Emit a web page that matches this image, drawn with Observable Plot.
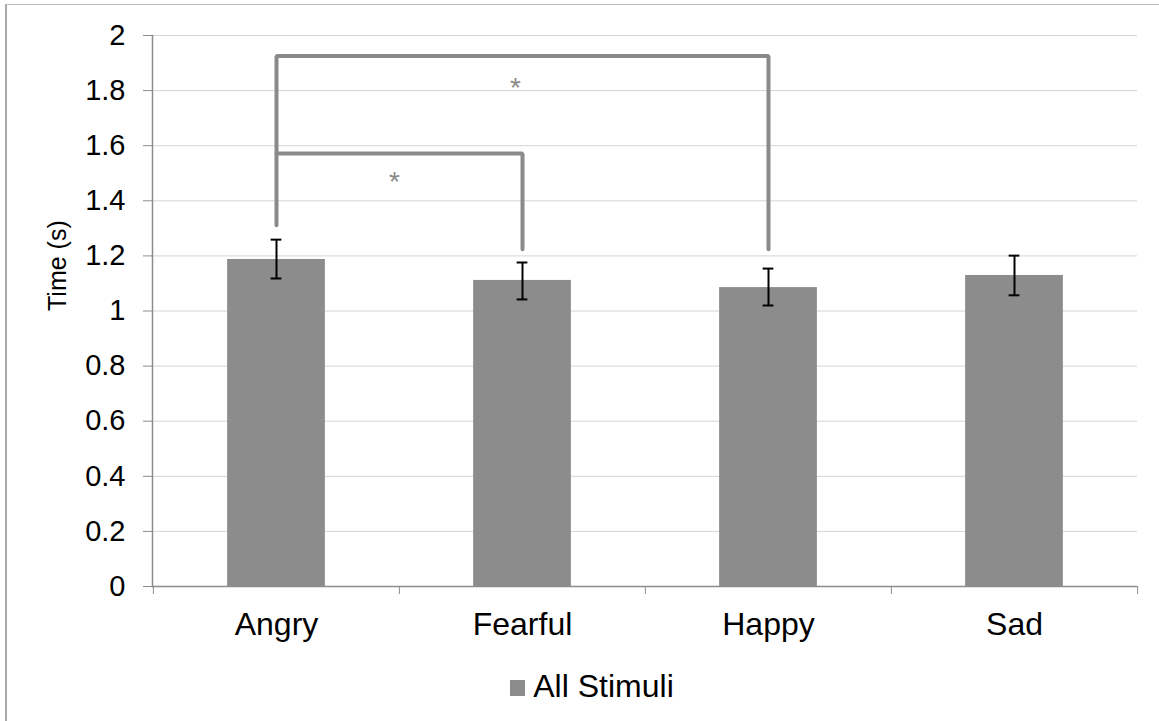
<!DOCTYPE html>
<html><head><meta charset="utf-8">
<script src="https://cdn.jsdelivr.net/npm/d3@7"></script>
<script src="https://cdn.jsdelivr.net/npm/@observablehq/plot@0.6"></script>
<style>
html,body{margin:0;padding:0;background:#fff;overflow:hidden;width:1159px;height:721px;}
#border{position:absolute;left:5px;top:4px;width:1180px;height:740px;border-left:2px solid #a8a8a8;border-top:1px solid #bdbdbd;box-sizing:border-box;pointer-events:none;}
#wrap{position:absolute;left:0;top:0;width:1159px;}
#legend{margin-top:17px;height:38px;display:flex;justify-content:center;align-items:center;padding-left:25px;font:32px "Liberation Sans",Arial,sans-serif;color:#000;}
#legend .sw{display:inline-block;width:15px;height:16px;background:#8c8c8c;margin-right:8px;margin-top:3px;}
</style></head><body>
<div id="wrap"><div id="chart"></div><div id="legend"></div></div>
<div id="border"></div>
<script>
// ---- data ----
const categories = ["Angry", "Fearful", "Happy", "Sad"];
const means = [1.187, 1.111, 1.085, 1.129];
const errLow = [1.118, 1.042, 1.020, 1.057];
const errHigh = [1.259, 1.176, 1.154, 1.201];
const yTicks = [0, 0.2, 0.4, 0.6, 0.8, 1, 1.2, 1.4, 1.6, 1.8, 2];
const yTickLabels = ["0", "0.2", "0.4", "0.6", "0.8", "1", "1.2", "1.4", "1.6", "1.8", "2"];
const seriesName = "All Stimuli";
const yLabel = "Time (s)";
// significance brackets
const outerCats = ["Angry", "Angry", "Happy", "Happy"];
const outerVals = [1.311, 1.926, 1.926, 1.224];
const innerCats = ["Angry", "Fearful", "Fearful"];
const innerVals = [1.572, 1.572, 1.224];
const starCats = ["Angry", "Fearful"];
const starVals = [1.492, 1.833];
const starLabel = "*";

// ---- build ----
const table = categories.map((c, i) => ({cat: c, mean: means[i], lo: errLow[i], hi: errHigh[i]}));
const outer = outerCats.map((c, i) => ({cat: c, v: outerVals[i]}));
const inner = innerCats.map((c, i) => ({cat: c, v: innerVals[i]}));
const barColor = "#8c8c8c";
const grey = "#8a8a8a";
const font = '"Liberation Sans", Arial, sans-serif';
const W = 1159, mL = 152, mR = 22;
const bw = (W - mL - mR) / categories.length;

const chart = Plot.plot({
  width: W,
  height: 650,
  marginLeft: mL,
  marginRight: mR,
  marginTop: 35,
  marginBottom: 64,
  style: {fontFamily: font, background: "transparent", color: "#000"},
  x: {domain: categories, padding: 0, label: null, axis: null},
  y: {domain: [0, 2], label: null, axis: null},
  marks: [
    Plot.gridY(yTicks, {stroke: "#d4d4d4", strokeOpacity: 1}),
    Plot.barY(table, {x: "cat", y: "mean", fill: barColor, insetLeft: (bw - 98) / 2, insetRight: (bw - 98) / 2}),
    Plot.ruleY([0], {stroke: "#8c8c8c", strokeWidth: 1.5}),
    Plot.frame({anchor: "left", stroke: "#8c8c8c", strokeWidth: 1.5}),
    Plot.axisY(yTicks, {tickSize: 9, tickFormat: () => "", stroke: "#8c8c8c"}),
    Plot.axisY(yTicks, {tickSize: 0, tickPadding: 27, fontSize: 29, fill: "#000", tickFormat: (d) => yTickLabels[yTicks.indexOf(d)]}),
    Plot.axisX(categories, {tickSize: 8, tickFormat: () => "", dx: -bw / 2, stroke: "#8c8c8c"}),
    Plot.axisX([categories[categories.length - 1]], {tickSize: 8, tickFormat: () => "", dx: bw / 2, stroke: "#8c8c8c"}),
    Plot.axisX(categories, {tickSize: 0, tickPadding: 26, fontSize: 32, fill: "#000"}),
    Plot.text([yLabel], {frameAnchor: "left", dx: -95, rotate: -90, fontSize: 25, fill: "#000"}),
    Plot.ruleX(table, {x: "cat", y1: "lo", y2: "hi", stroke: "#000", strokeWidth: 2}),
    Plot.tickY(table, {x: "cat", y: "lo", stroke: "#000", strokeWidth: 2, insetLeft: (bw - 11) / 2, insetRight: (bw - 11) / 2}),
    Plot.tickY(table, {x: "cat", y: "hi", stroke: "#000", strokeWidth: 2, insetLeft: (bw - 11) / 2, insetRight: (bw - 11) / 2}),
    Plot.line(outer, {x: "cat", y: "v", stroke: grey, strokeWidth: 4, strokeLinejoin: "miter", curve: "linear"}),
    Plot.line(inner, {x: "cat", y: "v", stroke: grey, strokeWidth: 4, strokeLinejoin: "miter", curve: "linear"}),
    Plot.text([0], {x: () => starCats[0], y: () => starVals[0], text: () => starLabel, dx: 118, dy: 7, fontSize: 28, fill: grey}),
    Plot.text([0], {x: () => starCats[1], y: () => starVals[1], text: () => starLabel, dx: -7, dy: 7, fontSize: 28, fill: grey})
  ]
});
document.getElementById("chart").appendChild(chart);

const lg = document.getElementById("legend");
const sw = document.createElement("span");
sw.className = "sw";
lg.appendChild(sw);
const lt = document.createElement("span");
lt.textContent = seriesName;
lg.appendChild(lt);
</script>
</body></html>
